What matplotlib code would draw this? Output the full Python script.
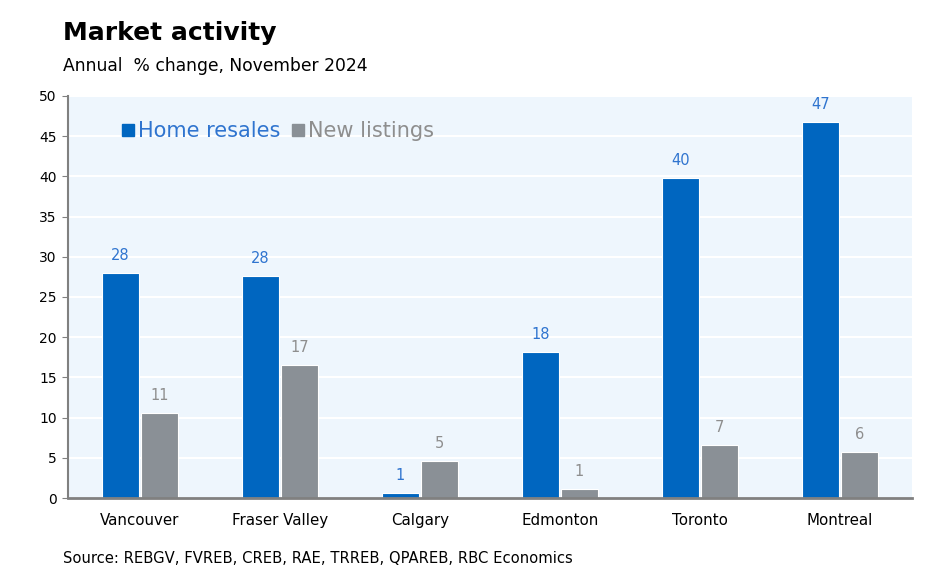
import numpy as np
import matplotlib.pyplot as plt
from matplotlib.lines import Line2D

cities = ['Vancouver', 'Fraser Valley', 'Calgary', 'Edmonton', 'Toronto', 'Montreal']
home_resales = [28.0, 27.6, 0.6, 18.2, 39.8, 46.8]
new_listings = [10.6, 16.6, 4.6, 1.1, 6.6, 5.7]
yticks = [0, 5, 10, 15, 20, 25, 30, 35, 40, 45, 50]

blue = '#0066C0'
grey = '#8A9096'
blue_lbl = '#2F74CF'
grey_lbl = '#8E8E8E'

fig = plt.figure(figsize=(9.36, 5.87), dpi=100)
ax = fig.add_axes([0.0726, 0.1516, 0.9014, 0.6849])
ax.set_facecolor('#EEF6FD')

x = np.arange(len(cities))
w = 0.265
off = 0.14
b1 = ax.bar(x - off, home_resales, w, color=blue, edgecolor='white', linewidth=0.8, zorder=3)
b2 = ax.bar(x + off, new_listings, w, color=grey, edgecolor='white', linewidth=0.8, zorder=3)

for rect, v in zip(b1, home_resales):
    ax.annotate(f'{v:.0f}', (rect.get_x() + rect.get_width() / 2, v), xytext=(0, 7),
                textcoords='offset points', ha='center', va='bottom', fontsize=10.5, color=blue_lbl)
for rect, v in zip(b2, new_listings):
    ax.annotate(f'{v:.0f}', (rect.get_x() + rect.get_width() / 2, v), xytext=(0, 7),
                textcoords='offset points', ha='center', va='bottom', fontsize=10.5, color=grey_lbl)

ax.set_xlim(-0.514, 5.514)
ax.set_ylim(0, 50)
ax.set_yticks(yticks)
ax.set_xticks(x)
ax.set_xticklabels(cities, fontsize=10.8)
ax.tick_params(axis='x', length=0, pad=11)
ax.tick_params(axis='y', length=4, color='#808080', labelsize=10, pad=4)
ax.grid(axis='y', color='white', linewidth=1.5, zorder=0)

for s in ['top', 'right']:
    ax.spines[s].set_visible(False)
ax.spines['left'].set_color('#808080')
ax.spines['left'].set_linewidth(1.5)
ax.spines['bottom'].set_color('#808080')
ax.spines['bottom'].set_linewidth(2)
ax.spines['bottom'].set_zorder(4)

handles = [Line2D([], [], marker='s', linestyle='none', color=blue, markersize=9),
           Line2D([], [], marker='s', linestyle='none', color=grey, markersize=9)]
ax.legend(handles, ['Home resales', 'New listings'], loc='center left',
          bbox_to_anchor=(0.062, 0.913), ncol=2, frameon=False, fontsize=15,
          borderaxespad=0, borderpad=0,
          handletextpad=0.15, columnspacing=0.5, handlelength=0.7,
          labelcolor=[blue_lbl, grey_lbl])

fig.text(0.067, 0.944, 'Market activity', fontsize=18, fontweight='bold', va='center')
fig.text(0.067, 0.887, 'Annual  % change, November 2024', fontsize=12.3, va='center')
fig.text(0.067, 0.049, 'Source: REBGV, FVREB, CREB, RAE, TRREB, QPAREB, RBC Economics',
         fontsize=10.6, va='center')

fig.savefig('out.png', dpi=100)
